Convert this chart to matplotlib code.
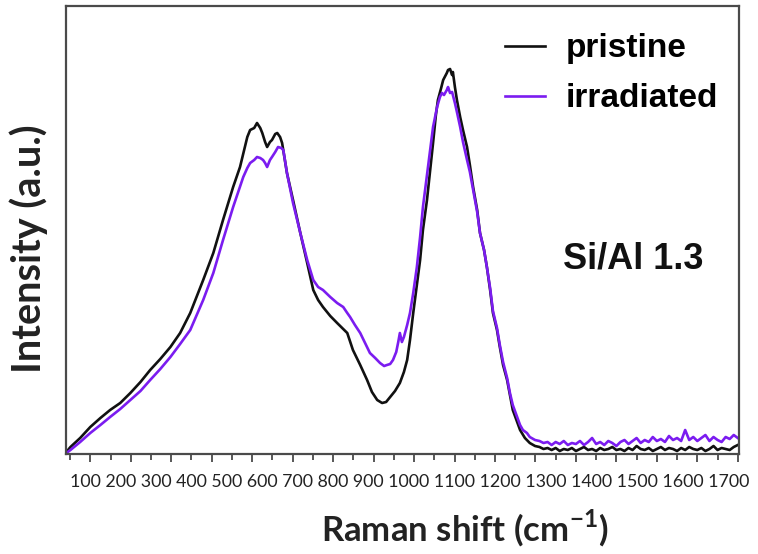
import matplotlib
matplotlib.use("Agg")
import matplotlib.pyplot as plt
from matplotlib.ticker import MultipleLocator, NullFormatter

# Raman spectra (x in cm-1, y in arbitrary units)
pristine_x = [41, 51, 75, 100, 125, 149, 174, 199, 224, 248, 273, 298, 322, 347,
              379, 404, 428, 453, 470, 488, 495, 505, 512, 520, 525, 532, 537,
              544, 549, 557, 562, 569, 574, 586, 601, 619, 636, 651, 663, 675,
              693, 710, 735, 749, 767, 784, 796, 809, 821, 831, 841, 853, 865,
              875, 883, 890, 898, 907, 915, 922, 932, 940, 947, 954, 959, 967,
              972, 977, 981, 984, 989, 994, 996, 1001, 1006, 1014, 1021, 1031,
              1038, 1046, 1056, 1063, 1073, 1080, 1088, 1095, 1105, 1112, 1120,
              1130, 1137, 1144, 1154, 1162, 1174, 1186, 1199]
pristine_y = [2, 7, 16, 27, 36, 44, 51, 61, 72, 84, 95, 107, 121, 141,
              174, 201, 234, 267, 287, 317, 324, 326, 331, 326, 321, 312, 307,
              312, 314, 320, 321, 317, 311, 281, 254, 221, 191, 164, 154, 147,
              138, 131, 121, 104, 89, 74, 62, 54, 51, 52, 57, 63, 71,
              82, 94, 114, 141, 169, 194, 224, 254, 284, 311, 339, 354, 366,
              374, 378, 381, 384, 385, 379, 382, 367, 354, 337, 324, 307,
              289, 267, 244, 221, 204, 187, 164, 141, 124, 107, 89,
              74, 59, 44, 33, 24, 16, 11, 8]

irradiated_x = [41, 51, 75, 100, 125, 149, 174, 199, 224, 248, 273, 298, 322,
                347, 379, 404, 428, 453, 478, 488, 495, 505, 512, 520, 527, 532,
                537, 544, 549, 557, 564, 572, 577, 586, 601, 619, 636, 651, 663,
                675, 693, 710, 725, 735, 742, 754, 767, 779, 791, 804, 816, 826,
                833, 841, 848, 856, 861, 865, 870, 875, 883, 890, 898, 907, 915,
                922, 932, 940, 947, 957, 964, 969, 974, 981, 984, 989, 994, 1001,
                1006, 1014, 1021, 1031, 1038, 1046, 1056, 1063, 1073, 1080, 1088,
                1095, 1105, 1112, 1120, 1130, 1137, 1144, 1154, 1162, 1169, 1179,
                1186, 1199]
irradiated_y = [1, 4, 12, 21, 29, 37, 45, 54, 63, 74, 85, 97, 110,
                124, 154, 181, 214, 247, 277, 286, 291, 294, 297, 296, 294, 291,
                287, 294, 297, 302, 307, 306, 304, 281, 251, 221, 194, 174, 167,
                164, 157, 151, 147, 141, 137, 129, 121, 111, 101, 96, 91, 88,
                89, 90, 94, 102, 112, 121, 112, 117, 129, 141, 161, 187, 217,
                247, 279, 304, 327, 347, 357, 361, 359, 364, 367, 361, 362, 351,
                342, 327, 312, 294, 282, 264, 242, 221, 204, 187, 166,
                143, 126, 109, 92, 76, 61, 49, 38, 29, 24, 21,
                17, 14]

# flat noisy tail above ~1200 cm-1
tail_x = [1210, 1220, 1230, 1240, 1250, 1260, 1270, 1280, 1290, 1300,
          1310, 1320, 1330, 1340, 1350, 1360, 1370, 1380, 1390, 1400,
          1410, 1420, 1430, 1440, 1450, 1460, 1470, 1480, 1490, 1500,
          1510, 1520, 1530, 1540, 1550, 1560, 1570, 1580, 1590, 1600,
          1610, 1620, 1630, 1640, 1650, 1660, 1670, 1680, 1690, 1700]
pristine_tail = [7, 5, 6, 4, 6, 3, 5, 4, 6, 3, 5, 7, 4, 5, 3, 6, 4, 5, 7, 4,
                 5, 3, 6, 4, 8, 5, 4, 6, 3, 5, 7, 4, 6, 5, 3, 6, 4, 7, 5, 4,
                 6, 3, 5, 8, 4, 6, 5, 4, 7, 9]
irradiated_tail = [13, 11, 12, 9, 12, 10, 13, 9, 11, 10, 13, 9, 12, 16, 10,
                   12, 9, 13, 11, 8, 12, 14, 10, 13, 16, 11, 14, 12, 17, 13,
                   15, 12, 18, 14, 16, 13, 24, 14, 17, 13, 16, 19, 13, 17, 14,
                   12, 17, 15, 19, 16]

tick_labels = ['100', '200', '300', '400', '500', '600', '700', '800', '900',
               '1000', '1100', '1200', '1300', '1400', '1500', '1600', '1700']

BLACK = '#111111'
PURPLE = '#7b1cf0'
SPINE = '#4a4a4a'

plt.rcParams['mathtext.fontset'] = 'custom'
plt.rcParams['mathtext.rm'] = 'Lato'
plt.rcParams['mathtext.bf'] = 'Lato:bold'

fig = plt.figure(figsize=(7.58, 5.54), dpi=100)
ax = fig.add_axes([66 / 758, 1 - 454 / 554, 673 / 758, 448 / 554])

ax.plot(pristine_x + tail_x, pristine_y + pristine_tail, color=BLACK, lw=1.9,
        label='pristine')
ax.plot(irradiated_x + tail_x, irradiated_y + irradiated_tail, color=PURPLE,
        lw=1.9, label='irradiated')

ax.set_xlim(40, 1703)
ax.set_ylim(0, 448)

# ticks
ax.xaxis.set_major_locator(MultipleLocator(100))
ax.xaxis.set_minor_locator(MultipleLocator(50))
ax.xaxis.set_major_formatter(NullFormatter())
ax.tick_params(axis='x', which='major', direction='out', length=6, width=1.3,
               color=SPINE)
ax.tick_params(axis='x', which='minor', direction='out', length=4, width=1.3,
               color=SPINE)
ax.set_yticks([])
for s in ax.spines.values():
    s.set_color(SPINE)
    s.set_linewidth(1.6)

# tick labels are set as one line of text under the axis, like the original
ax.text(0.5104, -0.0625, ' '.join(tick_labels), transform=ax.transAxes,
        ha='center', va='center', fontsize=12.75, family='Lato',
        color='#222222')

fig.text(465 / 758, 1 - 528 / 554, 'Raman shift (cm$^{\\mathbf{-1}}$)',
         ha='center', va='center', fontsize=25, family='Lato',
         fontweight='bold', color='#222222')
fig.text(29 / 758, 1 - 249 / 554, 'Intensity (a.u.)', rotation=90,
         ha='center', va='center', fontsize=28.5, family='Lato',
         fontweight='bold', color='#222222')

ax.text(0.739, 0.413, 'Si/Al 1.3', transform=ax.transAxes, ha='left',
        va='baseline', fontsize=26, family='Liberation Sans', fontweight='bold',
        color='#111111')

ax.legend(loc='upper right', bbox_to_anchor=(1.009, 1.0), frameon=False,
          handlelength=1.2, handletextpad=0.6, labelspacing=0.57,
          borderaxespad=0.62, borderpad=0.2,
          prop={'family': 'Liberation Sans', 'weight': 'bold', 'size': 24})

plt.savefig('out.png', dpi=100)
